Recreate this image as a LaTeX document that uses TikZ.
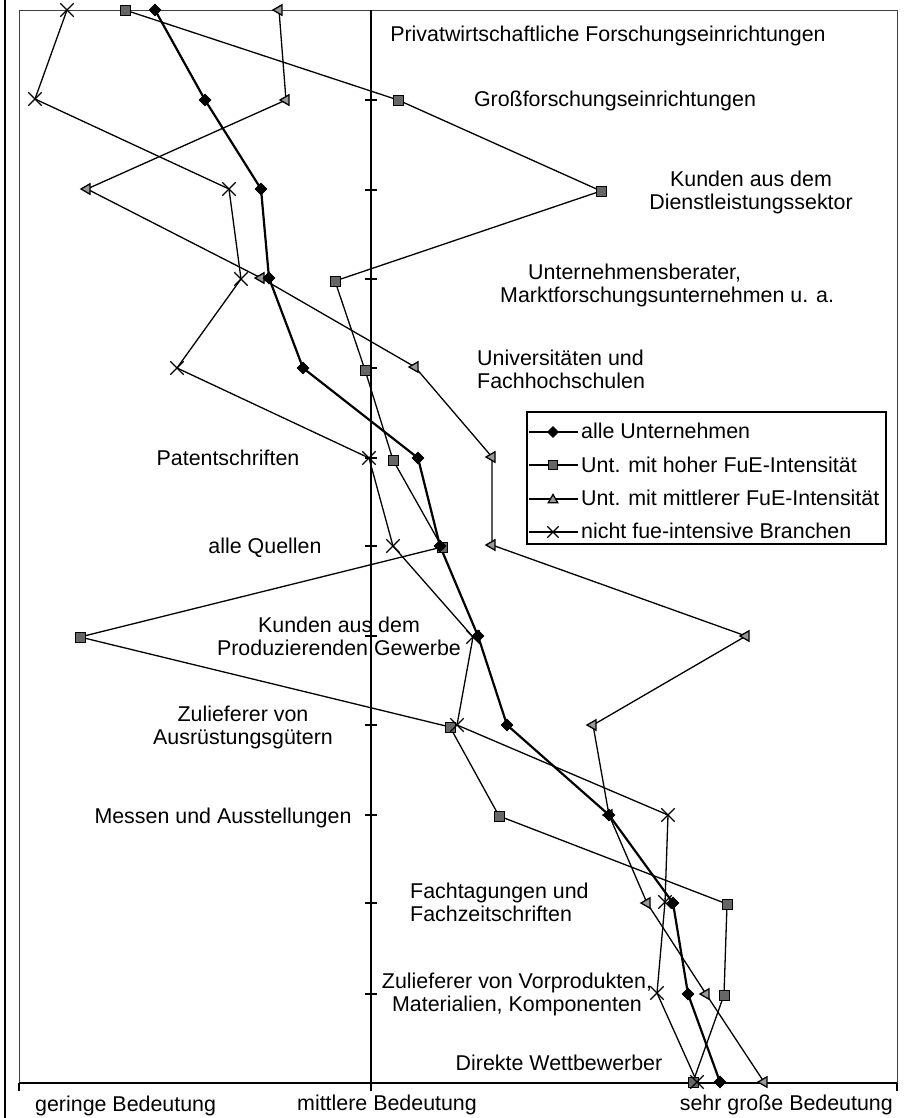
\documentclass[tikz,border=0pt]{standalone}
\usepackage{fontspec}
\setmainfont{Liberation Sans}
\usepackage{tikz}
\usetikzlibrary{shapes.geometric,shapes.misc,backgrounds}
\tikzset{
mk/.style = {inner sep=0pt, draw=black, line width=0.8pt},
mk_d/.style = {mk, diamond, fill=black, minimum size=12pt},% alle Unternehmen
mk_q/.style = {mk, rectangle, fill=black!60, minimum size=10pt},% hohe FuE-Intensitaet
mk_t/.style = {mk, regular polygon, regular polygon sides=3, shape border rotate=90, fill=black!40, minimum size=12pt, line width=1.3pt},% mittlere FuE-Intensitaet
mk_x/.style = {mk, cross out, minimum size=12pt, line width=1.3pt},% nicht fue-intensiv
ln_a/.style = {line width=2.2pt, line join=round},
ln_b/.style = {line width=1.3pt, line join=round},
kat/.style = {font=\fontsize{21.4}{23}\selectfont, inner sep=0pt}
}
\begin{document}
\begin{tikzpicture}[x=1pt, y=-1pt]
\useasboundingbox (0,0) rectangle (909,1118);
% Rahmen und Achsen
\draw[line width=1.4pt] (5,0) -- (5,1118);
\draw[line width=0.9pt, black!75] (19,10) rectangle (897,1083);
\draw[line width=2pt] (371,10) -- (371,1091);
\draw[line width=2pt] (19,1083) -- (897,1083);
\draw[line width=1.4pt] (365,100) -- (377,100) (365,190) -- (377,190) (365,279) -- (377,279)
  (365,368) -- (377,368) (365,458) -- (377,458) (365,546) -- (377,546) (365,636) -- (377,636)
  (365,725) -- (377,725) (365,815) -- (377,815) (365,903) -- (377,903) (365,994) -- (377,994)
  (19,1083) -- (19,1091) (897,1083) -- (897,1091);
% Messpunkte, Zeile fuer Zeile
\node[mk_t] (c0) at (279,10) {}; \node[mk_q] (b0) at (125,10) {}; \node[mk_x] (d0) at (67,10) {}; \node[mk_d] (a0) at (155,10) {};
\node[mk_t] (c1) at (286,100) {}; \node[mk_q] (b1) at (398,100) {}; \node[mk_x] (d1) at (35,99) {}; \node[mk_d] (a1) at (205,100) {};
\node[mk_t] (c2) at (87,189) {}; \node[mk_q] (b2) at (601,191) {}; \node[mk_x] (d2) at (229,189) {}; \node[mk_d] (a2) at (261,189) {};
\node[mk_t] (c3) at (261,278) {}; \node[mk_q] (b3) at (335,281) {}; \node[mk_x] (d3) at (241,279) {}; \node[mk_d] (a3) at (269,278) {};
\node[mk_t] (c4) at (415,367) {}; \node[mk_q] (b4) at (365,370) {}; \node[mk_x] (d4) at (177,368) {}; \node[mk_d] (a4) at (303,368) {};
\node[mk_t] (c5) at (492,457) {}; \node[mk_q] (b5) at (393,460) {}; \node[mk_x] (d5) at (369,458) {}; \node[mk_d] (a5) at (418,458) {};
\node[mk_t] (c6) at (492,545) {}; \node[mk_q] (b6) at (442,547) {}; \node[mk_x] (d6) at (393,546) {}; \node[mk_d] (a6) at (440,546) {};
\node[mk_t] (c7) at (746,636) {}; \node[mk_q] (b7) at (80,637) {}; \node[mk_x] (d7) at (473,637) {}; \node[mk_d] (a7) at (478,636) {};
\node[mk_t] (c8) at (593,725) {}; \node[mk_q] (b8) at (450,727) {}; \node[mk_x] (d8) at (457,725) {}; \node[mk_d] (a8) at (507,725) {};
\node[mk_t] (c9) at (609,815) {}; \node[mk_q] (b9) at (499,816) {}; \node[mk_x] (d9) at (668,815) {}; \node[mk_d] (a9) at (609,815) {};
\node[mk_t] (c10) at (647,903) {}; \node[mk_q] (b10) at (727,904) {}; \node[mk_x] (d10) at (665,902) {}; \node[mk_d] (a10) at (673,903) {};
\node[mk_t] (c11) at (706,994) {}; \node[mk_q] (b11) at (724,995) {}; \node[mk_x] (d11) at (657,993) {}; \node[mk_d] (a11) at (688,994) {};
\node[mk_t] (c12) at (764,1082) {}; \node[mk_q] (b12) at (693,1082) {}; \node[mk_x] (d12) at (697,1082) {}; \node[mk_d] (a12) at (720,1082) {};
% Quellen
\node[kat, anchor=base] (k0) at (608,42) {Privatwirtschaftliche Forschungseinrichtungen};
\node[kat, anchor=base] (k1) at (615,107) {Großforschungseinrichtungen};
\node[kat, align=center, anchor=base] (k2) at (751,209) {Kunden aus dem\\Dienstleistungssektor};
\node[kat, align=left, anchor=base west] (k3) at (500,302) {\hspace*{28pt}Unternehmensberater,\\Marktforschungsunternehmen u. a.};
\node[kat, align=left, anchor=base west] (k4) at (477,388) {Universitäten und\\Fachhochschulen};
\node[kat, anchor=base] (k5) at (228,465) {Patentschriften};
\node[kat, anchor=base] (k6) at (265,553) {alle Quellen};
\node[kat, align=center, anchor=base] (k7) at (339,655) {Kunden aus dem\\Produzierenden Gewerbe};
\node[kat, align=center, anchor=base] (k8) at (243,744) {Zulieferer von\\Ausrüstungsgütern};
\node[kat, anchor=base] (k9) at (223,823) {Messen und Ausstellungen};
\node[kat, align=left, anchor=base west] (k10) at (410,921) {Fachtagungen und\\Fachzeitschriften};
\node[kat, align=center, anchor=base] (k11) at (517,1011) {Zulieferer von Vorprodukten,\\Materialien, Komponenten};
\node[kat, anchor=base] (k12) at (559,1070) {Direkte Wettbewerber};
\node[kat, anchor=base west] (gering) at (35,1111) {geringe Bedeutung};
\node[kat, anchor=base west] (mittel) at (297,1110) {mittlere Bedeutung};
\node[kat, anchor=base east] (hoch) at (893,1110) {sehr große Bedeutung};
% Legende
\node[draw, line width=1.5pt, minimum width=359pt, minimum height=132pt, anchor=north west, inner sep=0pt] (leg) at (526,411) {};
\coordinate (la1) at (529,432); \coordinate (la2) at (578,432);
\coordinate (lb1) at (529,465); \coordinate (lb2) at (578,465);
\coordinate (lc1) at (529,499); \coordinate (lc2) at (578,499);
\coordinate (ld1) at (529,532); \coordinate (ld2) at (578,532);
\draw[ln_b] (la1) -- (la2); \draw[ln_b] (lb1) -- (lb2); \draw[ln_b] (lc1) -- (lc2); \draw[ln_b] (ld1) -- (ld2);
\node[mk_d, minimum size=11pt] (lma) at (553,432) {};
\node[mk_q, minimum size=9pt] (lmb) at (553,465) {};
\node[mk_t, shape border rotate=0, minimum size=11pt] (lmc) at (553,500) {};
\node[mk_x, minimum size=10pt] (lmd) at (553,532) {};
\node[kat, anchor=base west] (lta) at (581,438) {alle Unternehmen};
\node[kat, anchor=base west] (ltb) at (581,472) {Unt. mit hoher FuE-Intensität};
\node[kat, anchor=base west] (ltc) at (581,505) {Unt. mit mittlerer FuE-Intensität};
\node[kat, anchor=base west] (ltd) at (581,538) {nicht fue-intensive Branchen};
% Verbindungen
\begin{scope}[on background layer]
\draw[ln_a] (a0.center) -- (a1.center) -- (a2.center) -- (a3.center) -- (a4.center) -- (a5.center) -- (a6.center)
  -- (a7.center) -- (a8.center) -- (a9.center) -- (a10.center) -- (a11.center) -- (a12.center);
\draw[ln_b] (b0.center) -- (b1.center) -- (b2.center) -- (b3.center) -- (b4.center) -- (b5.center) -- (b6.center)
  -- (b7.center) -- (b8.center) -- (b9.center) -- (b10.center) -- (b11.center) -- (b12.center);
\draw[ln_b] (c0.center) -- (c1.center) -- (c2.center) -- (c3.center) -- (c4.center) -- (c5.center) -- (c6.center)
  -- (c7.center) -- (c8.center) -- (c9.center) -- (c10.center) -- (c11.center) -- (c12.center);
\draw[ln_b] (d0.center) -- (d1.center) -- (d2.center) -- (d3.center) -- (d4.center) -- (d5.center) -- (d6.center)
  -- (d7.center) -- (d8.center) -- (d9.center) -- (d10.center) -- (d11.center) -- (d12.center);
\end{scope}
\end{tikzpicture}
\end{document}
